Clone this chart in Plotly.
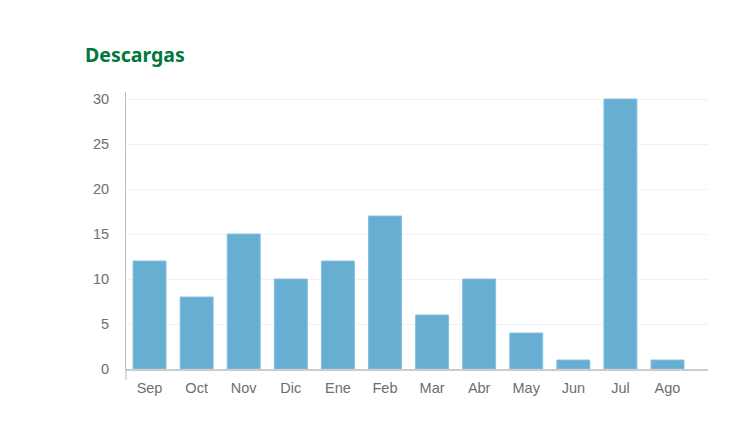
import plotly.graph_objects as go

months = ["Sep", "Oct", "Nov", "Dic", "Ene", "Feb", "Mar", "Abr", "May", "Jun", "Jul", "Ago"]
downloads = [12, 8, 15, 10, 12, 17, 6, 10, 4, 1, 30, 1]
y_ticks = [0, 5, 10, 15, 20, 25, 30]

fig = go.Figure()

fig.add_trace(go.Bar(
    x=months,
    y=downloads,
    marker=dict(color="#66AED2", line=dict(color="#86C0E0", width=1)),
    hoverinfo="x+y",
))

fig.update_layout(
    width=741,
    height=448,
    paper_bgcolor="white",
    plot_bgcolor="white",
    showlegend=False,
    bargap=0.30,
    # page body adds an 8px offset, so margins are set 8px smaller on top/left
    margin=dict(l=118, r=41, t=84, b=87),
    font=dict(family="Liberation Sans, Arial, sans-serif", size=14.5, color="#6E6E6E"),
    title=dict(
        text="<b>Descargas</b>",
        x=77 / 741, xanchor="left",
        y=1 - 47 / 448, yanchor="middle",
        font=dict(family="Noto Sans, Open Sans, sans-serif", size=19.5, color="#00783C"),
    ),
    xaxis=dict(
        range=[-0.5, 11.86],  # grid runs on past the last bar
        showgrid=False,
        showline=True,
        linecolor="#CCCCCC",
        linewidth=1.5,
        ticks="",
        ticklabelstandoff=5,
        fixedrange=True,
    ),
    yaxis=dict(
        range=[0, 30.78],
        tickvals=y_ticks,
        showgrid=True,
        gridcolor="#F2F2F2",
        zeroline=False,
        showline=True,
        linecolor="#BBBBBB",
        linewidth=1,
        ticks="",
        ticklabelstandoff=13,
        fixedrange=True,
    ),
    # left axis line runs a little below the zero line
    shapes=[dict(
        type="line", xref="paper", yref="paper",
        x0=0, x1=0, y0=-11 / 277, y1=0,
        line=dict(color="#BBBBBB", width=1),
    )],
)

fig.write_html("out.html")
